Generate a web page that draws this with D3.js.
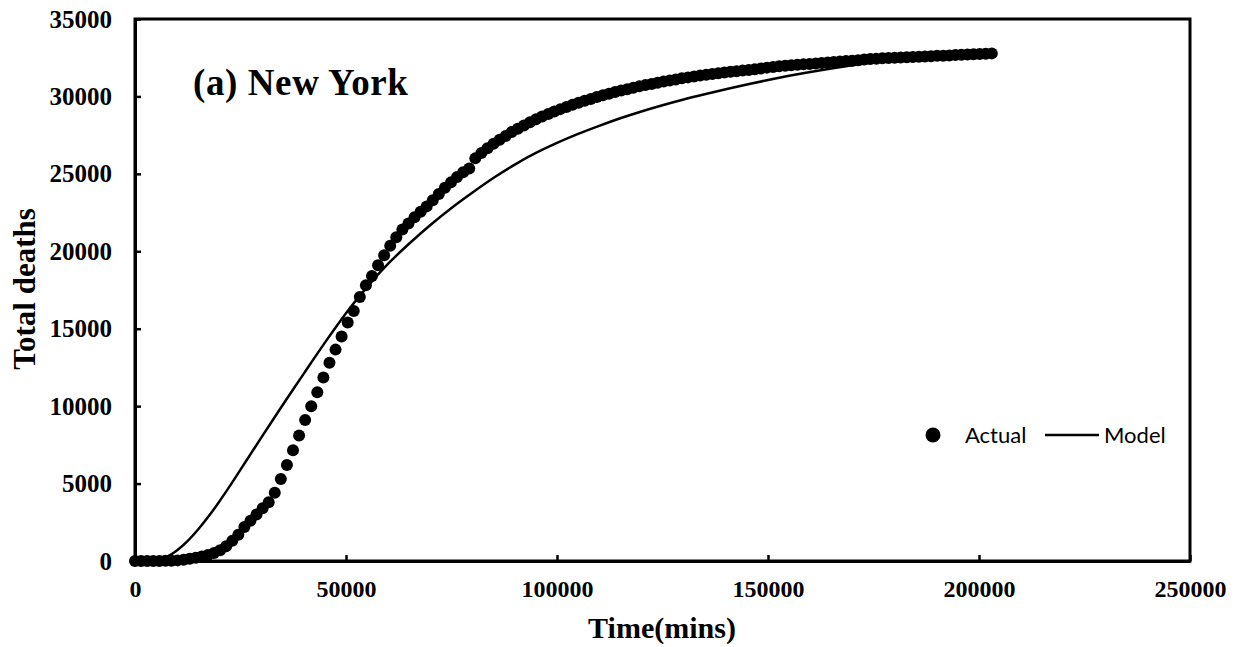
<!DOCTYPE html>
<html>
<head>
<meta charset="utf-8">
<script src="https://cdn.jsdelivr.net/npm/d3@7"></script>
<style>
  html, body { margin: 0; padding: 0; background: #fff; }
  svg { display: block; }
</style>
</head>
<body>
<svg id="chart" width="1241" height="647"></svg>
<script>
// ---- data ----
const xTicks = [0, 50000, 100000, 150000, 200000, 250000];
const yTicks = [0, 5000, 10000, 15000, 20000, 25000, 30000, 35000];

// Actual: one reading per day (1440 minutes)
const actualDay = d3.range(0, 142);
const actualDeaths = [
  0, 0, 0, 0, 5, 10, 20, 40, 80, 150,
  210, 290, 380, 520, 700, 950, 1300, 1700, 2200, 2600,
  3000, 3400, 3800, 4400, 5300, 6200, 7150, 8100, 9100, 10000,
  10900, 11850, 12800, 13650, 14500, 15400, 16150, 17050, 17800, 18400,
  19100, 19750, 20350, 20900, 21400, 21800, 22200, 22550, 22900, 23300,
  23700, 24100, 24450, 24800, 25100, 25350, 26000, 26350, 26650, 26950,
  27200, 27450, 27700, 27920, 28130, 28330, 28520, 28700, 28870, 29030,
  29180, 29320, 29460, 29590, 29720, 29840, 29960, 30070, 30180, 30280,
  30380, 30470, 30560, 30650, 30730, 30810, 30890, 30960, 31030, 31100,
  31170, 31230, 31290, 31350, 31400, 31450, 31500, 31540, 31590, 31630,
  31670, 31710, 31760, 31810, 31860, 31900, 31950, 31980, 32010, 32040,
  32070, 32100, 32130, 32160, 32190, 32220, 32250, 32280, 32310, 32340,
  32380, 32410, 32440, 32460, 32480, 32490, 32510, 32530, 32550, 32560,
  32580, 32600, 32620, 32630, 32650, 32670, 32690, 32700, 32720, 32740,
  32760, 32780
];
const minutesPerDay = 1440;

// Model curve
const modelTime = [0, 5000, 7500, 10000, 12500, 15000, 17500, 20000, 22500, 25000,
  27500, 30000, 32500, 35000, 37500, 40000, 45000, 50000, 55000, 60000,
  65000, 70000, 75000, 80000, 85000, 90000, 95000, 100000, 105000, 110000,
  115000, 120000, 125000, 130000, 135000, 140000, 145000, 150000, 155000, 160000,
  165000, 170000, 175000, 180000, 185000, 190000, 195000, 200000, 203000];
const modelDeaths = [0, 30, 260, 700, 1300, 2050, 2900, 3850, 4850, 5900,
  6950, 8000, 9040, 10070, 11090, 12100, 14100, 16000, 17700, 19200,
  20500, 21700, 22800, 23800, 24750, 25600, 26350, 27000, 27580, 28100,
  28590, 29030, 29430, 29800, 30140, 30460, 30770, 31060, 31330, 31580,
  31810, 32020, 32210, 32380, 32530, 32650, 32740, 32800, 32830];

const seriesNames = ["Actual", "Model"];

// ---- layout ----
const svg = d3.select("#chart");
const pL = 135, pR = 1190, pT = 19, pB = 561;

const x = d3.scaleLinear().domain([0, 250000]).range([pL, pR]);
const y = d3.scaleLinear().domain([0, 35000]).range([pB, pT]);

const serif = "'Liberation Serif', 'Times New Roman', serif";

// frame
svg.append("rect")
  .attr("x", pL).attr("y", pT)
  .attr("width", pR - pL).attr("height", pB - pT)
  .attr("fill", "none").attr("stroke", "#000").attr("stroke-width", 3);

// axes
const xAxis = d3.axisBottom(x).tickValues(xTicks).tickSizeInner(-6).tickSizeOuter(0).tickPadding(19)
  .tickFormat(d3.format("d"));
const gx = svg.append("g").attr("transform", `translate(0,${pB})`).call(xAxis);
gx.select(".domain").attr("stroke-width", 3);
gx.selectAll(".tick line").attr("stroke-width", 2.5);
gx.selectAll(".tick text")
  .attr("font-family", serif).attr("font-weight", "bold").attr("font-size", 24).attr("fill", "#000");

const yAxis = d3.axisLeft(y).tickValues(yTicks).tickSizeInner(-6).tickSizeOuter(0).tickPadding(23)
  .tickFormat(d3.format("d"));
const gy = svg.append("g").attr("transform", `translate(${pL},0)`).call(yAxis);
gy.select(".domain").attr("stroke-width", 3);
gy.selectAll(".tick line").attr("stroke-width", 2.5);
gy.selectAll(".tick text")
  .attr("font-family", serif).attr("font-weight", "bold").attr("font-size", 25).attr("fill", "#000");

// axis titles
svg.append("text")
  .attr("x", 662).attr("y", 638)
  .attr("text-anchor", "middle")
  .attr("font-family", serif).attr("font-weight", "bold").attr("font-size", 30)
  .text("Time(mins)");

svg.append("text")
  .attr("transform", `translate(35,${289}) rotate(-90)`)
  .attr("text-anchor", "middle")
  .attr("font-family", serif).attr("font-weight", "bold").attr("font-size", 31)
  .text("Total deaths");

// panel title
svg.append("text")
  .attr("x", 193).attr("y", 95)
  .attr("font-family", serif).attr("font-weight", "bold").attr("font-size", 37)
  .attr("letter-spacing", 0.6)
  .text("(a) New York");

// actual points
svg.append("g").selectAll("circle")
  .data(actualDay.map((d, i) => ({ t: d * minutesPerDay, v: actualDeaths[i] })))
  .join("circle")
  .attr("cx", d => x(d.t))
  .attr("cy", d => y(d.v))
  .attr("r", 6)
  .attr("fill", "#000");

// model line
const line = d3.line().x(d => x(d[0])).y(d => y(d[1])).curve(d3.curveMonotoneX);
svg.append("path")
  .datum(modelTime.map((t, i) => [t, modelDeaths[i]]))
  .attr("d", line)
  .attr("fill", "none").attr("stroke", "#000").attr("stroke-width", 2.5);

// legend
const sans = "Lato, 'Open Sans', sans-serif";
const lg = svg.append("g");
lg.append("circle").attr("cx", 933).attr("cy", 435).attr("r", 7.5).attr("fill", "#000");
lg.append("text").attr("x", 965).attr("y", 443)
  .attr("font-family", sans).attr("font-size", 22).text(seriesNames[0]);
lg.append("line").attr("x1", 1045).attr("x2", 1099).attr("y1", 435).attr("y2", 435)
  .attr("stroke", "#000").attr("stroke-width", 2.5);
lg.append("text").attr("x", 1104).attr("y", 443)
  .attr("font-family", sans).attr("font-size", 22).text(seriesNames[1]);
</script>
</body>
</html>
